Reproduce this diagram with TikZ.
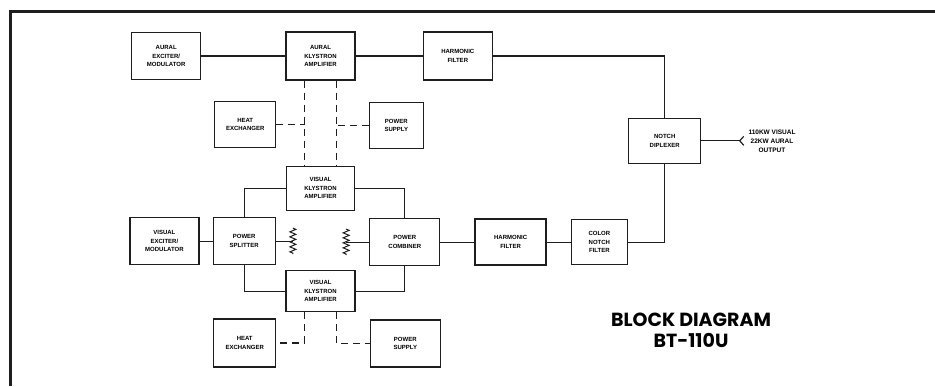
\documentclass[tikz,border=0pt]{standalone}
\usepackage{fontspec}
\setmainfont{Liberation Sans}
\newfontfamily\titlefont{Poppins}
\usepackage{tikz}
\usetikzlibrary{
  arrows.meta, positioning, calc,
  decorations.pathmorphing
}
\definecolor{InkBlack}{HTML}{1E1E1E}
\tikzset{
  % Equipment block
  block/.style={
    rectangle, draw=InkBlack, line width=1.3pt,
    fill=white, align=center, inner sep=1pt,
    minimum width=69pt, minimum height=47pt,
    font=\fontsize{6}{8.5}\selectfont\bfseries
  },
  % RF signal line
  rf_line/.style={
    line width=1.2pt, draw=InkBlack
  },
  % Cooling / supply link
  aux_link/.style={
    line width=1.2pt, draw=InkBlack,
    dash pattern=on 7pt off 5pt
  },
  % Coupling resistor
  coupler/.style={
    line width=1pt, draw=InkBlack, decorate,
    decoration={zigzag, segment length=5pt, amplitude=3pt}
  },
  % Sheet frame
  frame_line/.style={
    line width=3pt, draw=InkBlack
  }
}

\begin{document}
\begin{tikzpicture}[x=1pt, y=-1pt]

\useasboundingbox (0,0) rectangle (935,386);
\draw[frame_line] (935,11) -- (10,11) -- (10,386);

% ── aural chain ─────────────────────────────────────────────
\node[block, minimum height=48pt] (aur_kly) at (320.5,56)
  {AURAL\\KLYSTRON\\AMPLIFIER};
\node[block, left=84pt of aur_kly] (aur_exc)
  {AURAL\\EXCITER/\\MODULATOR};
\node[block, minimum height=48pt, right=67pt of aur_kly] (harm_a)
  {HARMONIC\\FILTER};

\node[block, minimum width=61pt, minimum height=46pt,
      below left=20pt and 9pt of aur_kly] (heat_a)
  {HEAT\\EXCHANGER};
\node[block, minimum width=54pt, minimum height=46pt,
      below right=21pt and 13pt of aur_kly] (ps_a)
  {POWER\\SUPPLY};

% ── visual chain ────────────────────────────────────────────
\node[block, minimum width=68pt, minimum height=44pt,
      below=85pt of aur_kly] (vis_kly_a)
  {VISUAL\\KLYSTRON\\AMPLIFIER};
\node[block, minimum width=62pt,
      below left=6pt and 10pt of vis_kly_a] (splitter)
  {POWER\\SPLITTER};
\node[block, minimum width=70pt,
      below right=7pt and 14pt of vis_kly_a] (combiner)
  {POWER\\COMBINER};
\node[block, left=13pt of splitter] (vis_exc)
  {VISUAL\\EXCITER/\\MODULATOR};
\node[block, minimum width=71pt, minimum height=46pt,
      right=34pt of combiner] (harm_b)
  {HARMONIC\\FILTER};
\node[block, minimum width=56pt, minimum height=45pt,
      right=24pt of harm_b] (notch)
  {COLOR\\NOTCH\\FILTER};

\node[block, minimum height=41pt,
      below=59pt of vis_kly_a] (vis_kly_b)
  {VISUAL\\KLYSTRON\\AMPLIFIER};
\node[block, minimum width=62pt, minimum height=48pt,
      below left=6pt and 9pt of vis_kly_b] (heat_b)
  {HEAT\\EXCHANGER};
\node[block, minimum width=70pt,
      below right=7pt and 14pt of vis_kly_b] (ps_b)
  {POWER\\SUPPLY};

\node[block, minimum width=72pt, minimum height=45pt,
      above right=55pt and 0pt of notch] (diplexer)
  {NOTCH\\DIPLEXER};

\coordinate[right=43pt of diplexer] (out_end);
\node[right=4pt of out_end, align=center, inner sep=0pt,
      font=\fontsize{6.5}{9}\selectfont\bfseries] (out_txt)
  {110KW VISUAL\\22KW AURAL\\OUTPUT};

\coordinate[right=17pt of splitter] (res_l);
\coordinate[left=23pt of combiner] (res_r);
\coordinate (cool_l) at ([xshift=-16pt]aur_kly.south);
\coordinate (cool_r) at ([xshift=16pt]aur_kly.south);

% ── title ───────────────────────────────────────────────────
\node[align=center, inner sep=0pt,
      font=\titlefont\fontsize{19}{21}\selectfont\bfseries] (title)
  at (691,330) {BLOCK DIAGRAM\\BT-110U};

% ── signal paths ────────────────────────────────────────────
\draw[rf_line] (aur_exc) -- (aur_kly);
\draw[rf_line] (aur_kly) -- (harm_a);
\draw[rf_line] (harm_a.east) -| (diplexer.north);
\draw[rf_line] (vis_exc) -- (splitter);
\draw[rf_line] (vis_kly_a.west) -| (splitter.north);
\draw[rf_line] (vis_kly_a.east) -| (combiner.north);
\draw[rf_line] (splitter.south) |- (vis_kly_b.west);
\draw[rf_line] (vis_kly_b.east) -| (combiner.south);
\draw[rf_line] (splitter.east) -- (res_l);
\draw[rf_line] (res_r) -- (combiner.west);
\draw[coupler] ([yshift=13pt]res_l) -- ([yshift=-13pt]res_l);
\draw[coupler] ([yshift=13pt]res_r) -- ([yshift=-13pt]res_r);
\draw[rf_line] (combiner) -- (harm_b);
\draw[rf_line] (harm_b) -- (notch);
\draw[rf_line] (notch.east) -| (diplexer.south);
\draw[rf_line, -{Straight Barb[reversed, length=4pt, width=9pt]}]
  (diplexer.east) -- (out_end);

% ── cooling and supply links ────────────────────────────────
\draw[aux_link] (cool_l) -- (cool_l |- vis_kly_a.north);
\draw[aux_link] (cool_r) -- (cool_r |- vis_kly_a.north);
\draw[aux_link] (heat_a.east) -- (heat_a.east -| cool_l);
\draw[aux_link] (ps_a.west)   -- (ps_a.west -| cool_r);
\draw[aux_link] ([xshift=-16pt]vis_kly_b.south) |- (heat_b.east);
\draw[aux_link] ([xshift=16pt]vis_kly_b.south)  |- (ps_b.west);

\end{tikzpicture}
\end{document}
